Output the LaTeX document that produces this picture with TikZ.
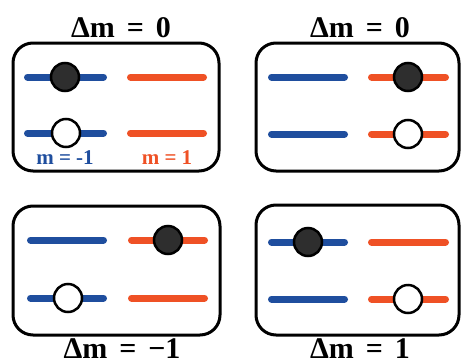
\documentclass[tikz,border=0pt]{standalone}
\usepackage{fontspec}
\setmainfont{Liberation Serif}
\definecolor{lvlblue}{HTML}{1F4E9E}
\definecolor{lvlred}{HTML}{EF5125}
\definecolor{popfill}{HTML}{2E2E2E}
\begin{document}
\begin{tikzpicture}[x=1pt,y=-1pt,
  panel/.style={draw=black, line width=3pt, rounded corners=20pt},
  level/.style={line width=7pt, line cap=round},
  full/.style={circle, draw=black, line width=2.5pt, fill=popfill, minimum size=28pt, inner sep=0pt},
  empty/.style={full, fill=white},
  title/.style={font=\bfseries\fontsize{30}{31}\selectfont, anchor=base, inner sep=0pt},
  mlabel/.style={font=\bfseries\fontsize{21}{22}\selectfont, anchor=base, inner sep=0pt}]
\useasboundingbox (0,0) rectangle (463,362);

% panel frames
\draw[panel] (13,43) rectangle (219,171);
\draw[panel] (256,43) rectangle (459,171);
\draw[panel] (13,206) rectangle (220,335);
\draw[panel] (256,205) rectangle (459,335);

% selection-rule titles
\node[title] (t1) at (121,37) {Δm\hspace{0.4em}=\hspace{0.4em}0};
\node[title] (t2) at (360,37) {Δm\hspace{0.4em}=\hspace{0.4em}0};
\node[title] (t3) at (122,358) {Δm\hspace{0.4em}=\hspace{0.4em}−1};
\node[title] (t4) at (360,358) {Δm\hspace{0.4em}=\hspace{0.4em}1};

% panel 1: levels
\draw[level, lvlblue] (27.5,77) -- (103.5,77);
\draw[level, lvlred] (130.5,77) -- (203.5,77);
\draw[level, lvlblue] (27.5,133) -- (103.5,133);
\draw[level, lvlred] (130.5,133) -- (203.5,133);
\node[full] (p1a) at (65,77) {};
\node[empty] (p1b) at (66,133) {};
\node[mlabel, text=lvlblue] (l1) at (65,164) {m = -1};
\node[mlabel, text=lvlred] (l2) at (167,164) {m = 1};

% panel 2: levels
\draw[level, lvlblue] (271.5,77) -- (344.5,77);
\draw[level, lvlred] (371.5,77) -- (445.5,77);
\draw[level, lvlblue] (271.5,134) -- (344.5,134);
\draw[level, lvlred] (371.5,134) -- (445.5,134);
\node[full] (p2a) at (408,77) {};
\node[empty] (p2b) at (408,134) {};

% panel 3: levels
\draw[level, lvlblue] (30.5,240) -- (103.5,240);
\draw[level, lvlred] (131.5,240) -- (204.5,240);
\draw[level, lvlblue] (30.5,298) -- (103.5,298);
\draw[level, lvlred] (131.5,298) -- (204.5,298);
\node[full] (p3a) at (168,240) {};
\node[empty] (p3b) at (68,298) {};

% panel 4: levels
\draw[level, lvlblue] (271.5,242) -- (344.5,242);
\draw[level, lvlred] (371.5,242) -- (445.5,242);
\draw[level, lvlblue] (271.5,299) -- (344.5,299);
\draw[level, lvlred] (371.5,299) -- (445.5,299);
\node[full] (p4a) at (308,242) {};
\node[empty] (p4b) at (408,299) {};
\end{tikzpicture}
\end{document}
